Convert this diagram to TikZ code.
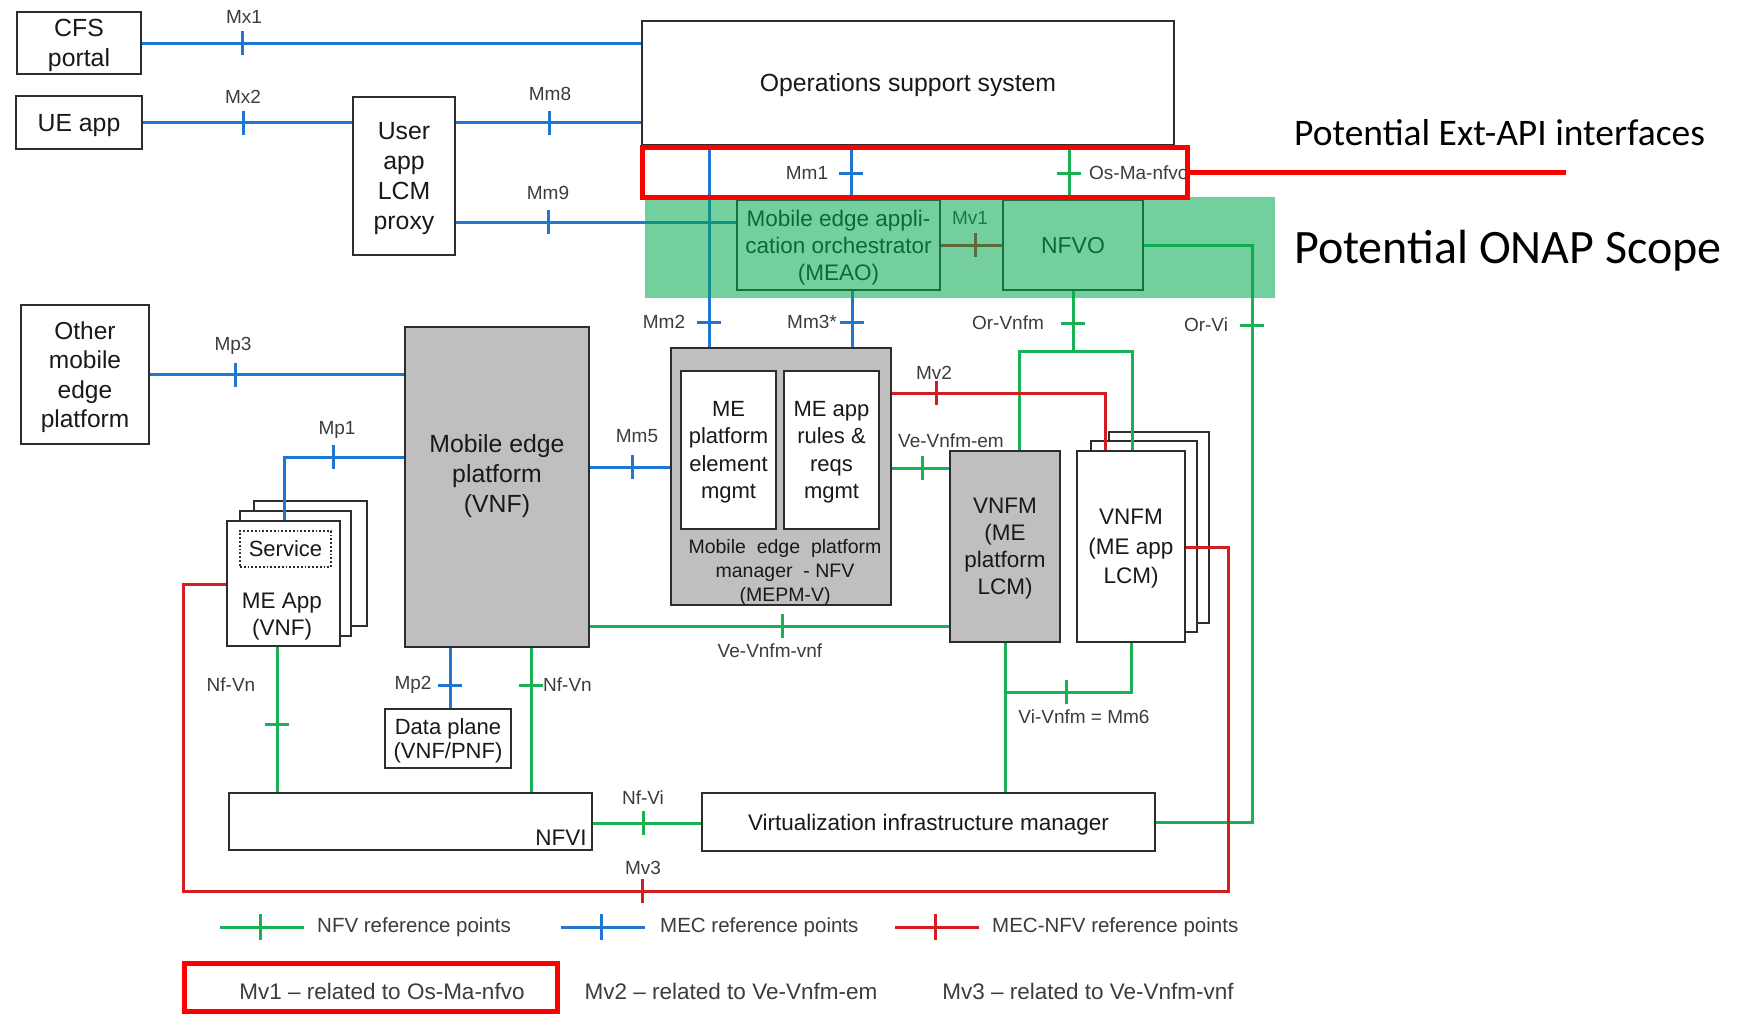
\documentclass[tikz,border=0pt]{standalone}
\usepackage{fontspec}
\setmainfont{Liberation Sans}
\newfontfamily\calibfont{Carlito}
\usetikzlibrary{calc}
\definecolor{mecblue}{RGB}{31,119,210}
\definecolor{nfvgreen}{RGB}{24,178,84}
\definecolor{mecred}{RGB}{210,30,35}
\definecolor{hlred}{RGB}{255,0,0}
\definecolor{grayf}{RGB}{191,191,191}
\definecolor{boxc}{RGB}{45,45,45}
\definecolor{txtc}{RGB}{25,25,25}
\definecolor{lblc}{RGB}{60,60,60}
\definecolor{ovl}{RGB}{0,170,80}
\newcommand\tickV[3]{\draw[#1] (#2,#3-12) -- (#2,#3+12);}
\newcommand\tickH[3]{\draw[#1] (#2-12,#3) -- (#2+12,#3);}
\begin{document}
\begin{tikzpicture}[x=1pt,y=-1pt,
  box/.style={draw=boxc, line width=2pt, fill=white, inner sep=0pt, align=center, text=txtc, text depth=0pt},
  graybox/.style={box, fill=grayf},
  txt/.style={inner sep=0pt, align=center, text=txtc, text depth=0pt},
  lbl/.style={inner sep=0pt, text=lblc, font=\fontsize{19}{21}\selectfont},
  mec/.style={draw=mecblue, line width=3pt},
  nfv/.style={draw=nfvgreen, line width=3pt},
  mv/.style={draw=mecred, line width=3pt},
  fA/.style={font=\fontsize{24.8}{30}\selectfont},
  fB/.style={font=\fontsize{22.5}{27}\selectfont},
  hl/.style={draw=hlred, line width=5pt, inner sep=0pt},
  leg/.style={inner sep=0pt, text=lblc, font=\fontsize{20.5}{24}\selectfont},
]
\useasboundingbox (0,0) rectangle (1737,1015);
\fill[white] (0,0) rectangle (1737,1015);

% ---------- boxes ----------
\node[box,fA,minimum width=124,minimum height=62] (cfs) at (79,43) {CFS\\portal};
\node[box,fA,minimum width=126,minimum height=53] (ueapp) at (79,122.5) {UE app};
\node[box,fA,minimum width=102,minimum height=158] (proxy) at (404,176) {User\\app\\LCM\\proxy};
\node[box,fA,minimum width=532,minimum height=124] (oss) at (908,83) {Operations support system};
\node[box,fB,minimum width=203,minimum height=90] (meao) at (838.5,245) {Mobile edge appli-\\cation orchestrator\\(MEAO)};
\node[box,font=\fontsize{23}{27}\selectfont,minimum width=140,minimum height=90] (nfvo) at (1073,245) {NFVO};
\node[box,font=\fontsize{24.5}{29.5}\selectfont,minimum width=128,minimum height=139] (omep) at (85,374.5) {Other\\mobile\\edge\\platform};

\node[graybox,minimum width=184,minimum height=320] (mep) at (497,487) {};
\node[txt,fA] (mept) at (497,474) {Mobile edge\\platform\\(VNF)};

\node[graybox,minimum width=220,minimum height=257] (mepm) at (781,476.5) {};
\node[box,font=\fontsize{22}{27.3}\selectfont,minimum width=95,minimum height=158] (pem) at (728.5,450) {ME\\platform\\element\\mgmt};
\node[box,font=\fontsize{22}{27.3}\selectfont,minimum width=95,minimum height=158] (rules) at (831.5,450) {ME app\\rules \&\\reqs\\mgmt};
\node[txt,font=\fontsize{19.5}{24}\selectfont] (mepmt) at (785,570) {Mobile\ \ edge\ \ platform\\manager\ \ - NFV\\(MEPM-V)};

\node[box,minimum width=113,minimum height=125] (meappB) at (310.5,563.5) {};
\node[box,minimum width=111,minimum height=125] (meappM) at (295.5,573.5) {};
\node[box,minimum width=113,minimum height=125] (meappF) at (283.5,583.5) {};
\node[draw=boxc, line width=1.8pt, dotted, inner sep=0pt, minimum width=91, minimum height=36, text=txtc, text depth=0pt, font=\fontsize{22}{27}\selectfont] (svc) at (285.5,549) {Service};
\node[txt,fB] (meappt) at (282,614) {ME App\\(VNF)};

\node[box,font=\fontsize{22}{24}\selectfont,minimum width=126,minimum height=59] (dplane) at (448,738.5) {Data plane\\(VNF/PNF)};
\node[box,minimum width=363,minimum height=57] (nfvi) at (410.5,821.5) {};
\node[txt,fB] (nfvit) at (561,838) {NFVI};
\node[box,fB,minimum width=453,minimum height=58] (vim) at (928.5,822) {Virtualization infrastructure manager};

\node[graybox,fB,minimum width=110,minimum height=191] (vnfmp) at (1005,546.5) {VNFM\\(ME\\platform\\LCM)};
\node[box,minimum width=100,minimum height=191] (vnfmaB) at (1159,527.5) {};
\node[box,minimum width=106,minimum height=191] (vnfmaM) at (1144,536.5) {};
\node[box,font=\fontsize{22.5}{29.5}\selectfont,minimum width=108,minimum height=191] (vnfmaF) at (1131,546.5) {VNFM\\(ME app\\LCM)};

% ---------- connectors ----------
\draw[mec] (cfs.east) -- (cfs.east -| oss.west);
\draw[mec] (ueapp.east) -- (ueapp.east -| proxy.west);
\draw[mec] (proxy.east |- ueapp.east) -- (oss.west |- ueapp.east);
\draw[mec] (proxy.east |- 0,222) -- (meao.west |- 0,222);
\draw[mec] (oss.south -| 851,0) -- (meao.north -| 851,0);
\draw[mec] (oss.south -| 709,0) -- (mepm.north -| 709,0);
\draw[mec] (meao.south -| 852,0) -- (mepm.north -| 852,0);
\draw[nfv] (oss.south -| 1069,0) -- (nfvo.north -| 1069,0);
\draw[mv] (meao.east) -- (nfvo.west);
\draw[nfv] (nfvo.south) -- (nfvo.south |- 0,351);
\draw[nfv] (vnfmp.north -| 1019,0) -- (1019,351) -- (1132,351) -- (vnfmaF.north -| 1132,0);
\draw[nfv] (nfvo.east) -- (nfvo.east -| 1252,0) -- (vim.east -| 1252,0) -- (vim.east);
\draw[mec] (omep.east) -- (omep.east -| mep.west);
\draw[mec] (mep.west |- 0,457) -- (284,457) -- (meappF.north -| 284,0);
\draw[mec] (mep.east |- 0,467) -- (mepm.west |- 0,467);
\draw[nfv] (mepm.east |- 0,468) -- (vnfmp.west |- 0,468);
\draw[mv] (mepm.east |- 0,393) -- (1105,393) -- (vnfmaF.north -| 1105,0);
\draw[nfv] (mep.east |- 0,626) -- (vnfmp.west |- 0,626);
\draw[nfv] (meappF.south -| 277,0) -- (nfvi.north -| 277,0);
\draw[mec] (mep.south -| 450,0) -- (dplane.north -| 450,0);
\draw[nfv] (mep.south -| 531,0) -- (nfvi.north -| 531,0);
\draw[nfv] (nfvi.east |- 0,823) -- (vim.west |- 0,823);
\draw[nfv] (vnfmp.south) -- (vim.north -| vnfmp.south);
\draw[nfv] (vnfmp.south |- 0,692) -- (1131,692) -- (vnfmaF.south);
\draw[mv] (meappF.west |- 0,584) -- (183,584) -- (183,891) -- (1228,891) -- (1228,547) -- (vnfmaF.east |- 0,547);

% ---------- ticks ----------
\tickV{mec}{242}{43}
\tickV{mec}{243}{122.5}
\tickV{mec}{549}{122.5}
\tickV{mec}{548}{222}
\tickH{mec}{851}{173}
\tickH{nfv}{1069}{173}
\tickV{mv}{975}{245}
\tickH{mec}{709}{322}
\tickH{mec}{852}{322}
\tickH{nfv}{1073}{323}
\tickH{nfv}{1252}{325}
\tickV{mec}{235}{374.5}
\tickV{mec}{333}{457}
\tickV{mec}{632}{467}
\tickV{mv}{936}{393}
\tickV{nfv}{922}{468}
\tickV{nfv}{782}{626}
\tickH{mec}{450}{685}
\tickH{nfv}{531}{685}
\tickH{nfv}{277}{724}
\tickV{nfv}{1066}{692}
\tickV{nfv}{643}{823}
\tickV{mv}{642}{891}

% ---------- labels ----------
\node[lbl] (lMxA) at (244,17) {Mx1};
\node[lbl] (lMxB) at (243,97) {Mx2};
\node[lbl] (lMmH) at (550,94) {Mm8};
\node[lbl] (lMmI) at (548,193) {Mm9};
\node[lbl] (lMmA) at (807,173) {Mm1};
\node[lbl,anchor=west] (lOsMa) at (1089,173) {Os-Ma-nfvo};
\node[lbl] (lMvA) at (970,218) {Mv1};
\node[lbl] (lMmB) at (664,322) {Mm2};
\node[lbl] (lMmC) at (812,322) {Mm3*};
\node[lbl] (lOrVnfm) at (1008,323) {Or-Vnfm};
\node[lbl] (lOrVi) at (1206,325) {Or-Vi};
\node[lbl] (lMpC) at (233,346) {Mp3};
\node[lbl] (lMpA) at (337,430) {Mp1};
\node[lbl] (lMmE) at (637,436) {Mm5};
\node[lbl] (lMvB) at (934,373) {Mv2};
\node[lbl] (lVeEm) at (951,441) {Ve-Vnfm-em};
\node[lbl] (lVeVnf) at (770,651) {Ve-Vnfm-vnf};
\node[lbl] (lMpB) at (413,685) {Mp2};
\node[lbl,anchor=west] (lNfVnR) at (543,685) {Nf-Vn};
\node[lbl] (lNfVnL) at (231,685) {Nf-Vn};
\node[lbl] (lViVnfm) at (1084,717) {Vi-Vnfm = Mm6};
\node[lbl] (lNfVi) at (643,798) {Nf-Vi};
\node[lbl] (lMvC) at (643,868) {Mv3};

% ---------- ONAP scope overlay ----------
\node[fill=ovl, fill opacity=.55, inner sep=0pt, minimum width=630, minimum height=101] (onap) at (960,247.5) {};
\node[anchor=base west, inner sep=0pt, font=\calibfont\fontsize{48}{50}\selectfont] (onaplbl) at (1294,263) {Potential ONAP Scope};

% ---------- Ext-API highlight ----------
\node[hl, minimum width=545, minimum height=50] (extapi) at (914.5,172) {};
\coordinate (extend) at (1566,172);
\draw[hlred, line width=5pt] (extapi.east) -- (extend);
\node[anchor=base west, inner sep=0pt, font=\calibfont\fontsize{37.5}{40}\selectfont] (extlbl) at (1294,145) {Potential Ext-API interfaces};

% ---------- legend ----------
\draw[nfv] (220,927) -- (304,927); \draw[nfv] (260,914) -- (260,940);
\node[leg,anchor=west] (legA) at (317,927) {NFV reference points};
\draw[mec] (561,927) -- (645,927); \draw[mec] (601,914) -- (601,940);
\node[leg,anchor=west] (legB) at (660,927) {MEC reference points};
\draw[mv] (895,927) -- (979,927); \draw[mv] (935,914) -- (935,940);
\node[leg,anchor=west] (legC) at (992,927) {MEC-NFV reference points};

\node[hl, minimum width=373, minimum height=48] (mvbox) at (370.5,987.5) {};
\node[leg,font=\fontsize{22.5}{24}\selectfont] (mvA) at (382,991) {Mv1 -- related to Os-Ma-nfvo};
\node[leg,font=\fontsize{22.5}{24}\selectfont] (mvB) at (731,991) {Mv2 -- related to Ve-Vnfm-em};
\node[leg,font=\fontsize{22.5}{24}\selectfont] (mvC) at (1088,991) {Mv3 -- related to Ve-Vnfm-vnf};
\end{tikzpicture}
\end{document}
